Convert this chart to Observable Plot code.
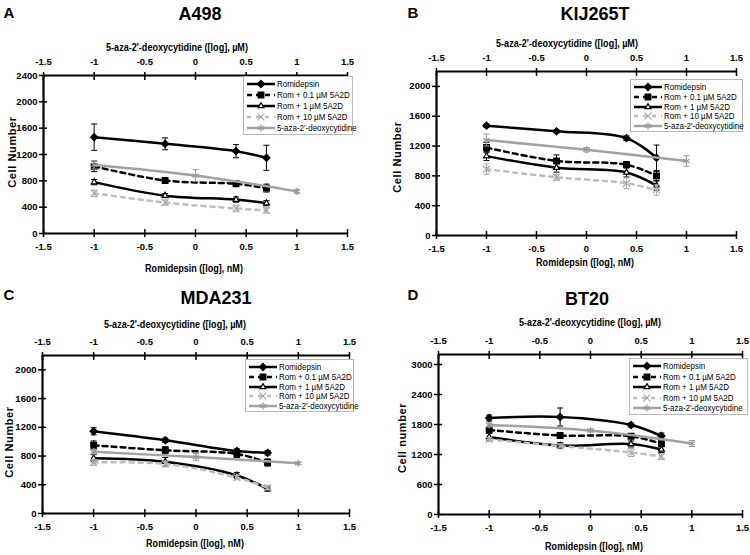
<!DOCTYPE html>
<html><head><meta charset="utf-8">
<script src="https://cdn.jsdelivr.net/npm/d3@7"></script>
<script src="https://cdn.jsdelivr.net/npm/@observablehq/plot@0.6"></script>
<style>
body{margin:0;background:#fff;}
#root{position:relative;width:750px;height:555px;overflow:hidden;background:#fff;}
.panel{position:absolute;width:375px;height:275px;}
.panel svg.plotsvg{position:absolute;left:0;top:0;}
.t{position:absolute;white-space:nowrap;transform:translate(-50%,-50%);color:#000;line-height:1;}
.letter{font:bold 15px "Liberation Sans",Arial,sans-serif;}
.title{font:bold 18px "Liberation Sans",Arial,sans-serif;}
.axt{font:bold 10.5px "Liberation Sans Narrow","Arial Narrow","Liberation Sans",sans-serif;transform:translate(-50%,-50%) scaleX(0.86);}
.ylab{font:bold 11px "Liberation Sans",Arial,sans-serif;letter-spacing:0.6px;transform:translate(-50%,-50%) rotate(-90deg);}
.legend{position:absolute;background:#fff;border:1px solid #b8b8b8;box-sizing:border-box;font:9.5px "Liberation Sans Narrow","Arial Narrow","Liberation Sans",sans-serif;color:#000;}
.legend .row{position:absolute;left:2px;height:10px;white-space:nowrap;}
.legend .row svg{position:absolute;left:0;top:0;}
.legend .row span{position:absolute;left:31px;top:0;line-height:10px;transform:scaleX(0.84);transform-origin:0 50%;}
</style>
</head><body>
<div id="root"></div>
<script>
// ---------- data ----------
const romidepsinLogNM = [-1, -0.3, 0.4, 0.7];
const azaLogUM = [-1, 0, 1];
const seriesLabels = ["Romidepsin", "Rom + 0.1 µM 5A2D", "Rom + 1 µM 5A2D", "Rom + 10 µM 5A2D", "5-aza-2'-deoxycytidine"];
const xTicks = [-1.5, -1, -0.5, 0, 0.5, 1, 1.5];
const panelNames = ["A498", "KIJ265T", "MDA231", "BT20"];
const panelLetters = ["A", "B", "C", "D"];
const yLabels = ["Cell Number", "Cell Number", "Cell Number", "Cell number"];
const topAxisTitle = "5-aza-2'-deoxycytidine ([log], µM)";
const bottomAxisTitle = "Romidepsin ([log], nM)";
const yMaxA = 2400, yMaxB = 2200, yMaxC = 2200, yMaxD = 3200;
const yTicksA = [0, 400, 800, 1200, 1600, 2000, 2400];
const yTicksB = [0, 400, 800, 1200, 1600, 2000];
const yTicksC = [0, 400, 800, 1200, 1600, 2000];
const yTicksD = [0, 600, 1200, 1800, 2400, 3000];

// means per series (Romidepsin, +0.1, +1, +10, 5-aza)
const a498Mean = [[1463, 1362, 1250, 1150], [1020, 805, 755, 690], [780, 575, 515, 460], [610, 470, 380, 350], [1040, 880, 640]];
const a498Sd   = [[200, 90, 100, 190], [80, 40, 40, 60], [40, 30, 40, 40], [50, 40, 50, 40], [60, 90, 30]];
const kij265tMean = [[1473, 1397, 1306, 1043], [1180, 1000, 950, 800], [1065, 910, 845, 670], [890, 780, 700, 610], [1280, 1150, 1000]];
const kij265tSd   = [[20, 20, 30, 170], [70, 80, 40, 60], [60, 60, 60, 60], [70, 40, 70, 70], [80, 30, 70]];
const mda231Mean = [[1145, 1020, 870, 845], [950, 880, 830, 710], [770, 720, 530, 340], [710, 690, 500, 360], [860, 785, 700]];
const mda231Sd   = [[50, 30, 30, 30], [60, 50, 50, 50], [50, 60, 40, 30], [40, 40, 30, 30], [30, 50, 20]];
const bt20Mean = [[1930, 1950, 1790, 1570], [1690, 1580, 1565, 1415], [1550, 1380, 1410, 1300], [1500, 1370, 1240, 1160], [1790, 1680, 1420]];
const bt20Sd   = [[60, 180, 40, 60], [60, 40, 40, 40], [80, 60, 60, 60], [40, 40, 80, 60], [40, 30, 60]];

// ---------- styles & layout ----------
const panelMeans = [a498Mean, kij265tMean, mda231Mean, bt20Mean];
const panelSds = [a498Sd, kij265tSd, mda231Sd, bt20Sd];
const panelYMax = [yMaxA, yMaxB, yMaxC, yMaxD];
const panelYTicks = [yTicksA, yTicksB, yTicksC, yTicksD];

const seriesStyle = [
  {stroke: "#000", dash: null, symbol: "diamond2", d3sym: d3.symbolDiamond2, fill: "#000", mstroke: "#000", r: 3.2, err: "#000"},
  {stroke: "#000", dash: "5,4", symbol: "square", d3sym: d3.symbolSquare, fill: "#000", mstroke: "#000", r: 3.2, err: "#000"},
  {stroke: "#000", dash: null, symbol: "triangle2", d3sym: d3.symbolTriangle2, fill: "#fff", mstroke: "#000", r: 2.8, err: "#000"},
  {stroke: "#bdbdbd", dash: "4,5", symbol: "times", d3sym: d3.symbolTimes, fill: "none", mstroke: "#a8a8a8", r: 3.2, err: "#a8a8a8"},
  {stroke: "#a2a2a2", dash: null, symbol: "asterisk", d3sym: d3.symbolAsterisk, fill: "none", mstroke: "#999", r: 3.4, err: "#999"}
];

const layout = [
  {left: 0,   top: 0,   mt: 75, mb: 42, ml: 43, mr: 28, letter: [9, 12],  title: [200, 14], topLab: [177, 47], botLab: [194, 268], yLab: [12, 152], legend: [243, 76, 110, 59]},
  {left: 375, top: 0,   mt: 71, mb: 40, ml: 61, mr: 14, letter: [38, 12], title: [220, 14], topLab: [192, 43], botLab: [210, 262], yLab: [22, 157], legend: [255, 79, 113, 53]},
  {left: 0,   top: 275, mt: 80, mb: 37, ml: 42, mr: 26, letter: [9, 19],  title: [216, 23], topLab: [175, 49], botLab: [195, 268], yLab: [9, 167],  legend: [245, 84, 109, 53]},
  {left: 375, top: 275, mt: 79, mb: 36, ml: 63, mr: 8,  letter: [38, 19], title: [212, 24], topLab: [215, 47], botLab: [219, 271], yLab: [27, 163], legend: [254, 83, 119, 57]}
];

const narrow = '"Liberation Sans Narrow","Arial Narrow","Liberation Sans",sans-serif';
const capSymbol = {draw(context, size) { const w = Math.sqrt(size / Math.PI); context.moveTo(-w, 0); context.lineTo(w, 0); }};

const root = document.getElementById("root");

function addText(parent, cls, txt, x, y) {
  const d = document.createElement("div");
  d.className = "t " + cls;
  d.textContent = txt;
  d.style.left = x + "px";
  d.style.top = y + "px";
  parent.appendChild(d);
  return d;
}

panelNames.forEach((name, i) => {
  const L = layout[i];
  const div = document.createElement("div");
  div.className = "panel";
  div.style.left = L.left + "px";
  div.style.top = L.top + "px";
  root.appendChild(div);

  const rows = [];
  panelMeans[i].forEach((vals, s) => {
    const xs = s === 4 ? azaLogUM : romidepsinLogNM;
    vals.forEach((v, j) => rows.push({s, x: xs[j], y: v, sd: panelSds[i][s][j]}));
  });
  const ymax = panelYMax[i];

  const marks = [
    Plot.axisX({ticks: xTicks, anchor: "bottom", tickSize: 8, insetBottom: 4, tickPadding: 6, tickFormat: d => String(d), label: null, strokeWidth: 1.5}),
    Plot.axisX({ticks: xTicks, anchor: "top", tickSize: 8, insetTop: 4, tickPadding: 7, tickFormat: d => String(d), label: null, strokeWidth: 1.5}),
    Plot.axisY({ticks: panelYTicks[i], anchor: "left", tickSize: 8, insetLeft: 4, tickPadding: 2, tickFormat: d => String(d), label: null, strokeWidth: 1.5}),
    Plot.ruleY([0], {strokeWidth: 2.2}),
    Plot.ruleY([ymax], {strokeWidth: 2.2}),
    Plot.ruleX([-1.5], {strokeWidth: 2.2})
  ];
  seriesStyle.forEach((st, s) => {
    const data = rows.filter(d => d.s === s);
    marks.push(Plot.ruleX(data, {x: "x", y1: d => d.y - d.sd, y2: d => d.y + d.sd, stroke: st.err, strokeWidth: 1}));
    marks.push(Plot.dot(data, {x: "x", y: d => d.y + d.sd, symbol: capSymbol, r: 3, stroke: st.err, strokeWidth: 1}));
    marks.push(Plot.dot(data, {x: "x", y: d => d.y - d.sd, symbol: capSymbol, r: 3, stroke: st.err, strokeWidth: 1}));
    marks.push(Plot.line(data, {x: "x", y: "y", stroke: st.stroke, strokeWidth: 2.5, strokeDasharray: st.dash, curve: "catmull-rom"}));
    marks.push(Plot.dot(data, {x: "x", y: "y", symbol: st.symbol, r: st.r, fill: st.fill, stroke: st.mstroke, strokeWidth: 1.2}));
  });

  const svg = Plot.plot({
    width: 375, height: 275,
    marginTop: L.mt, marginBottom: L.mb, marginLeft: L.ml, marginRight: L.mr,
    x: {domain: [-1.5, 1.5]},
    y: {domain: [0, ymax]},
    style: {fontFamily: narrow, fontSize: "9.5px", fontWeight: "bold", color: "#000", background: "transparent", overflow: "visible"},
    marks
  });
  svg.classList.add("plotsvg");
  div.appendChild(svg);

  addText(div, "letter", panelLetters[i], L.letter[0], L.letter[1]);
  addText(div, "title", name, L.title[0], L.title[1]);
  addText(div, "axt", topAxisTitle, L.topLab[0], L.topLab[1]);
  addText(div, "axt", bottomAxisTitle, L.botLab[0], L.botLab[1]);
  addText(div, "ylab", yLabels[i], L.yLab[0], L.yLab[1]);

  // legend
  const lg = document.createElement("div");
  lg.className = "legend";
  const [lx, ly, lw, lh] = L.legend;
  Object.assign(lg.style, {left: lx + "px", top: ly + "px", width: lw + "px", height: lh + "px"});
  const step = (lh - 4) / 5;
  seriesLabels.forEach((lab, s) => {
    const st = seriesStyle[s];
    const row = document.createElement("div");
    row.className = "row";
    row.style.top = (2 + s * step) + "px";
    const sv = d3.create("svg").attr("width", 30).attr("height", 10);
    sv.append("line").attr("x1", 1).attr("x2", 29).attr("y1", 5).attr("y2", 5)
      .attr("stroke", st.stroke).attr("stroke-width", 2.5).attr("stroke-dasharray", st.dash);
    sv.append("path").attr("transform", "translate(15,5)")
      .attr("d", d3.symbol(st.d3sym, Math.PI * st.r * st.r)())
      .attr("fill", st.fill).attr("stroke", st.mstroke).attr("stroke-width", 1.2);
    row.appendChild(sv.node());
    const sp = document.createElement("span");
    sp.textContent = lab;
    row.appendChild(sp);
    lg.appendChild(row);
  });
  div.appendChild(lg);
});
</script>
</body></html>
